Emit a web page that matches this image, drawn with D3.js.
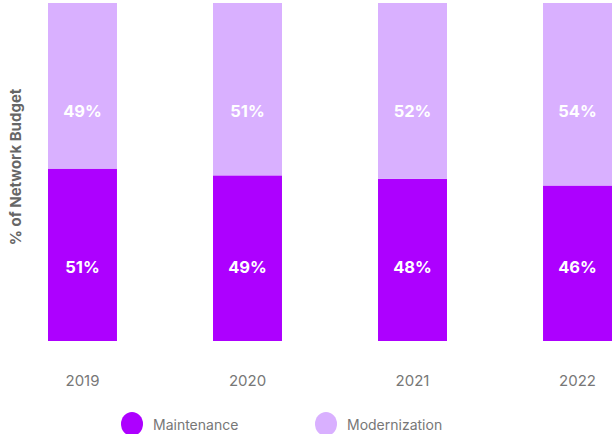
<!DOCTYPE html>
<html>
<head>
<script src="https://d3js.org/d3.v7.min.js"></script>
<style>
  body { margin: 0; background: #fff; }
  text { font-family: Inter, "Open Sans", sans-serif; }
</style>
</head>
<body>
<svg width="613" height="434"></svg>
<script>
// data
const years = ["2019", "2020", "2021", "2022"];
const maintenance = [51, 49, 48, 46];
const modernization = [49, 51, 52, 54];
const seriesNames = ["Maintenance", "Modernization"];
const colors = ["#ad00ff", "#d9b0ff"];

let svg = d3.select("svg");

let xScale = d3.scaleBand()
    .domain(years)
    .range([48, 612])
    .paddingInner(0.582)
    .paddingOuter(0);

let yScale = d3.scaleLinear()
    .domain([0, 100])
    .range([341, 3]);

// build stack table
const table = years.map((y, i) => ({ year: y, Maintenance: maintenance[i], Modernization: modernization[i] }));
const stacked = d3.stack().keys(seriesNames)(table);

let groups = svg.selectAll("g.series").data(stacked).join("g")
    .attr("class", "series")
    .attr("fill", (d, i) => colors[i]);

groups.selectAll("rect").data(d => d).join("rect")
    .attr("x", d => xScale(d.data.year))
    .attr("width", xScale.bandwidth())
    .attr("y", d => yScale(d[1]))
    .attr("height", d => yScale(d[0]) - yScale(d[1]));

// value labels (fixed height per series)
const labelLevel = [22, 68];
stacked.forEach((s, si) => {
    svg.selectAll(null).data(s).join("text")
        .attr("x", d => xScale(d.data.year) + xScale.bandwidth() / 2)
        .attr("y", yScale(labelLevel[si]))
        .attr("text-anchor", "middle")
        .attr("dominant-baseline", "central")
        .attr("fill", "#fff")
        .attr("font-weight", 700)
        .attr("font-size", 16.5)
        .text(d => (d[1] - d[0]) + "%");
});

// x axis labels
let bottomAxis = d3.axisBottom(xScale).tickSize(0).tickPadding(0);
let xg = svg.append("g").attr("transform", "translate(0, 375)").call(bottomAxis);
xg.select(".domain").remove();
xg.selectAll("text")
    .attr("font-size", 15)
    .attr("fill", "#777")
    .attr("font-family", "Inter, sans-serif");

// y title
svg.append("text")
    .attr("transform", "translate(21, 167) rotate(-90)")
    .attr("text-anchor", "middle")
    .attr("font-size", 15)
    .attr("font-weight", 700)
    .attr("fill", "#666")
    .text("% of Network Budget");

// legend
const legendX = [132, 326];
seriesNames.forEach((name, i) => {
    svg.append("ellipse")
        .attr("cx", legendX[i])
        .attr("cy", 424)
        .attr("rx", 11)
        .attr("ry", 12)
        .attr("fill", colors[i]);
    svg.append("text")
        .attr("x", legendX[i] + 21)
        .attr("y", 424)
        .attr("dominant-baseline", "central")
        .attr("font-size", 14)
        .attr("fill", "#777")
        .text(name);
});
</script>
</body>
</html>
